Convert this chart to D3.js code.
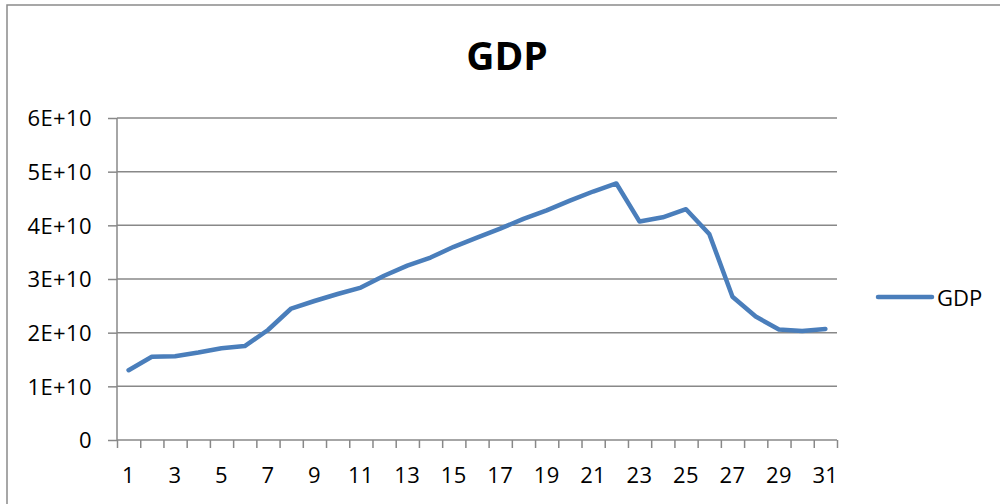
<!DOCTYPE html>
<html>
<head>
<meta charset="utf-8">
<script src="https://cdn.jsdelivr.net/npm/d3@7"></script>
<style>
  body { margin: 0; background: #fff; }
  text { font-family: "Open Sans", sans-serif; fill: #000; }
</style>
</head>
<body>
<svg id="chart"></svg>
<script>
// data
const years = d3.range(1, 32);
const gdp = [1.30e10, 1.55e10, 1.56e10, 1.63e10, 1.71e10, 1.75e10, 2.05e10, 2.45e10, 2.59e10, 2.72e10,
             2.84e10, 3.06e10, 3.25e10, 3.40e10, 3.60e10, 3.77e10, 3.94e10, 4.12e10, 4.28e10, 4.46e10,
             4.63e10, 4.78e10, 4.07e10, 4.15e10, 4.30e10, 3.84e10, 2.67e10, 2.30e10, 2.06e10, 2.03e10, 2.07e10];
const yTicks = [0, 1e10, 2e10, 3e10, 4e10, 5e10, 6e10];
const seriesName = "GDP";

const width = 1000, height = 504;
const margin = { top: 118, right: 163, bottom: 64, left: 117 };
const lineColor = "#4a7ebb";
const gridColor = "#888";

const svg = d3.select("#chart").attr("width", width).attr("height", height);

// outer chart border
svg.append("rect")
  .attr("x", 7).attr("y", 5)
  .attr("width", 1010).attr("height", 520)
  .attr("fill", "none")
  .attr("stroke", "#8a8a8a")
  .attr("stroke-width", 1.5);

// title
svg.append("text")
  .attr("x", 507).attr("y", 70)
  .attr("text-anchor", "middle")
  .style("font-size", "39px")
  .style("font-weight", "bold")
  .text(seriesName);

const x = d3.scaleLinear()
  .domain([0.5, years.length + 0.5])
  .range([margin.left, width - margin.right]);

const y = d3.scaleLinear()
  .domain([0, 6e10])
  .range([height - margin.bottom, margin.top]);

// gridlines
svg.append("g").selectAll("line")
  .data(yTicks.filter(d => d > 0))
  .join("line")
  .attr("x1", margin.left).attr("x2", width - margin.right)
  .attr("y1", d => y(d)).attr("y2", d => y(d))
  .attr("stroke", gridColor)
  .attr("stroke-width", 1.5);

// y axis
const yAxis = svg.append("g")
  .attr("transform", `translate(${margin.left},0)`)
  .call(d3.axisLeft(y).tickValues(yTicks).tickSize(9).tickPadding(16)
    .tickFormat(d => d === 0 ? "0" : (d / 1e10) + "E+10"));
yAxis.select(".domain").attr("stroke", gridColor).attr("stroke-width", 1.5).attr("d", `M0,${y(0)}V${y(6e10)}`);
yAxis.selectAll(".tick line").attr("stroke", gridColor).attr("stroke-width", 1.5);
yAxis.selectAll(".tick text").style("font-size", "22px").attr("dy", "0.36em").style("letter-spacing", "0.4px");

// x axis: ticks on category boundaries
const xAxis = svg.append("g")
  .attr("transform", `translate(0,${y(0)})`)
  .call(d3.axisBottom(x).tickValues(d3.range(0.5, years.length + 1, 1)).tickSize(8).tickFormat(""));
xAxis.select(".domain").attr("stroke", gridColor).attr("stroke-width", 1.5).attr("d", `M${x(0.5)},0H${x(years.length + 0.5)}`);
xAxis.selectAll(".tick line").attr("stroke", gridColor).attr("stroke-width", 1.5);

// x labels: every other year
svg.append("g").selectAll("text")
  .data(years.filter(d => d % 2 === 1))
  .join("text")
  .attr("x", d => x(d))
  .attr("y", 483)
  .attr("text-anchor", "middle")
  .style("font-size", "22px")
  .style("letter-spacing", "0.4px")
  .text(d => d);

// line
const line = d3.line()
  .x((d, i) => x(years[i]))
  .y(d => y(d));

svg.append("path")
  .datum(gdp)
  .attr("d", line)
  .attr("fill", "none")
  .attr("stroke", lineColor)
  .attr("stroke-width", 4.5)
  .attr("stroke-linejoin", "round")
  .attr("stroke-linecap", "round");

// legend
svg.append("line")
  .attr("x1", 878).attr("x2", 932)
  .attr("y1", 297).attr("y2", 297)
  .attr("stroke", lineColor)
  .attr("stroke-width", 4.5)
  .attr("stroke-linecap", "round");
svg.append("text")
  .attr("x", 937).attr("y", 306)
  .style("font-size", "22px")
  .text(seriesName);
</script>
</body>
</html>
